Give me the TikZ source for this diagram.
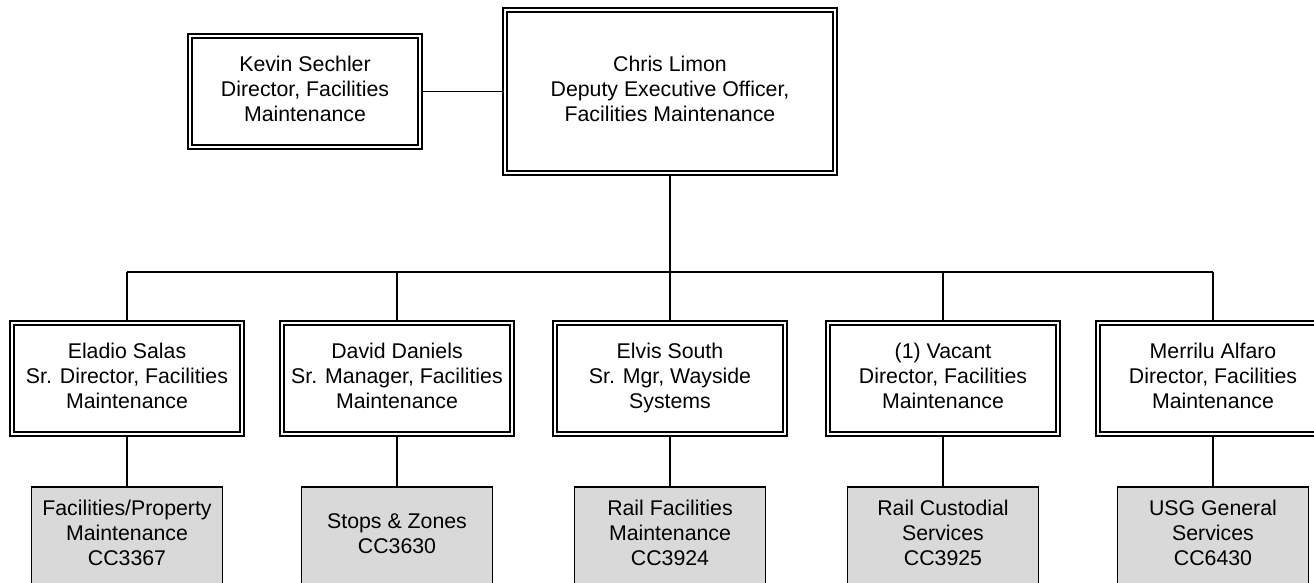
\documentclass[tikz,border=0pt]{standalone}
\usepackage{fontspec}
\setmainfont{Liberation Sans}
\usetikzlibrary{backgrounds}
\newcommand\mystrut{\rule[-4.8pt]{0pt}{22.5pt}}
\begin{document}
\begin{tikzpicture}[x=1pt,y=-1pt,
  txt/.style={align=center,font=\fontsize{21.3}{25}\selectfont,text=black,
    execute at begin node=\mystrut,execute at end node=\mystrut},
  dbox/.style={txt,draw=black,double,line width=1.8pt,double distance=2.1pt,fill=white,inner sep=0pt},
  mgr/.style={dbox,minimum width=230pt,minimum height=111.5pt},
  unit/.style={txt,draw=black,line width=1.4pt,fill=gray!30,inner sep=0pt,minimum width=191pt,minimum height=97pt},
  conn/.style={draw=black,line width=1.6pt}]
\useasboundingbox (0,0) rectangle (1314,582);
\clip (0,0) rectangle (1314,582);

\node[dbox,minimum width=330.5pt,minimum height=163.5pt] (chris) at (670,91.5) {Chris Limon\\Deputy Executive Officer,\\Facilities Maintenance};
\node[dbox,minimum width=230.5pt,minimum height=111.5pt] (kevin) at (305,91.5) {Kevin Sechler\\Director, Facilities\\Maintenance};

\node[mgr] (m1) at (127,378.5) {Eladio Salas\\Sr. Director, Facilities\\Maintenance};
\node[mgr] (m2) at (397,378.5) {David Daniels\\Sr. Manager, Facilities\\Maintenance};
\node[mgr] (m3) at (670,378.5) {Elvis South\\Sr. Mgr, Wayside\\Systems};
\node[mgr] (m4) at (943,378.5) {(1) Vacant\\Director, Facilities\\Maintenance};
\node[mgr] (m5) at (1213,378.5) {Merrilu Alfaro\\Director, Facilities\\Maintenance};

\node[unit] (u1) at (127,535.5) {Facilities/Property\\Maintenance\\CC3367};
\node[unit] (u2) at (397,535.5) {Stops \& Zones\\CC3630};
\node[unit] (u3) at (670,535.5) {Rail Facilities\\Maintenance\\CC3924};
\node[unit] (u4) at (943,535.5) {Rail Custodial\\Services\\CC3925};
\node[unit] (u5) at (1213,535.5) {USG General\\Services\\CC6430};

\coordinate (b1) at (127,272);
\coordinate (b2) at (397,272);
\coordinate (b3) at (670,272);
\coordinate (b4) at (943,272);
\coordinate (b5) at (1213,272);

\begin{pgfonlayer}{background}
\path[conn] (kevin.east) -- (chris.west);
\path[conn] (chris.south) -- (b3);
\path[conn] (b1) -- (b5);
\foreach \i in {1,...,5}{
  \path[conn] (b\i) -- (m\i.north);
  \path[conn] (m\i.south) -- (u\i.north);
}
\end{pgfonlayer}
\end{tikzpicture}
\end{document}
